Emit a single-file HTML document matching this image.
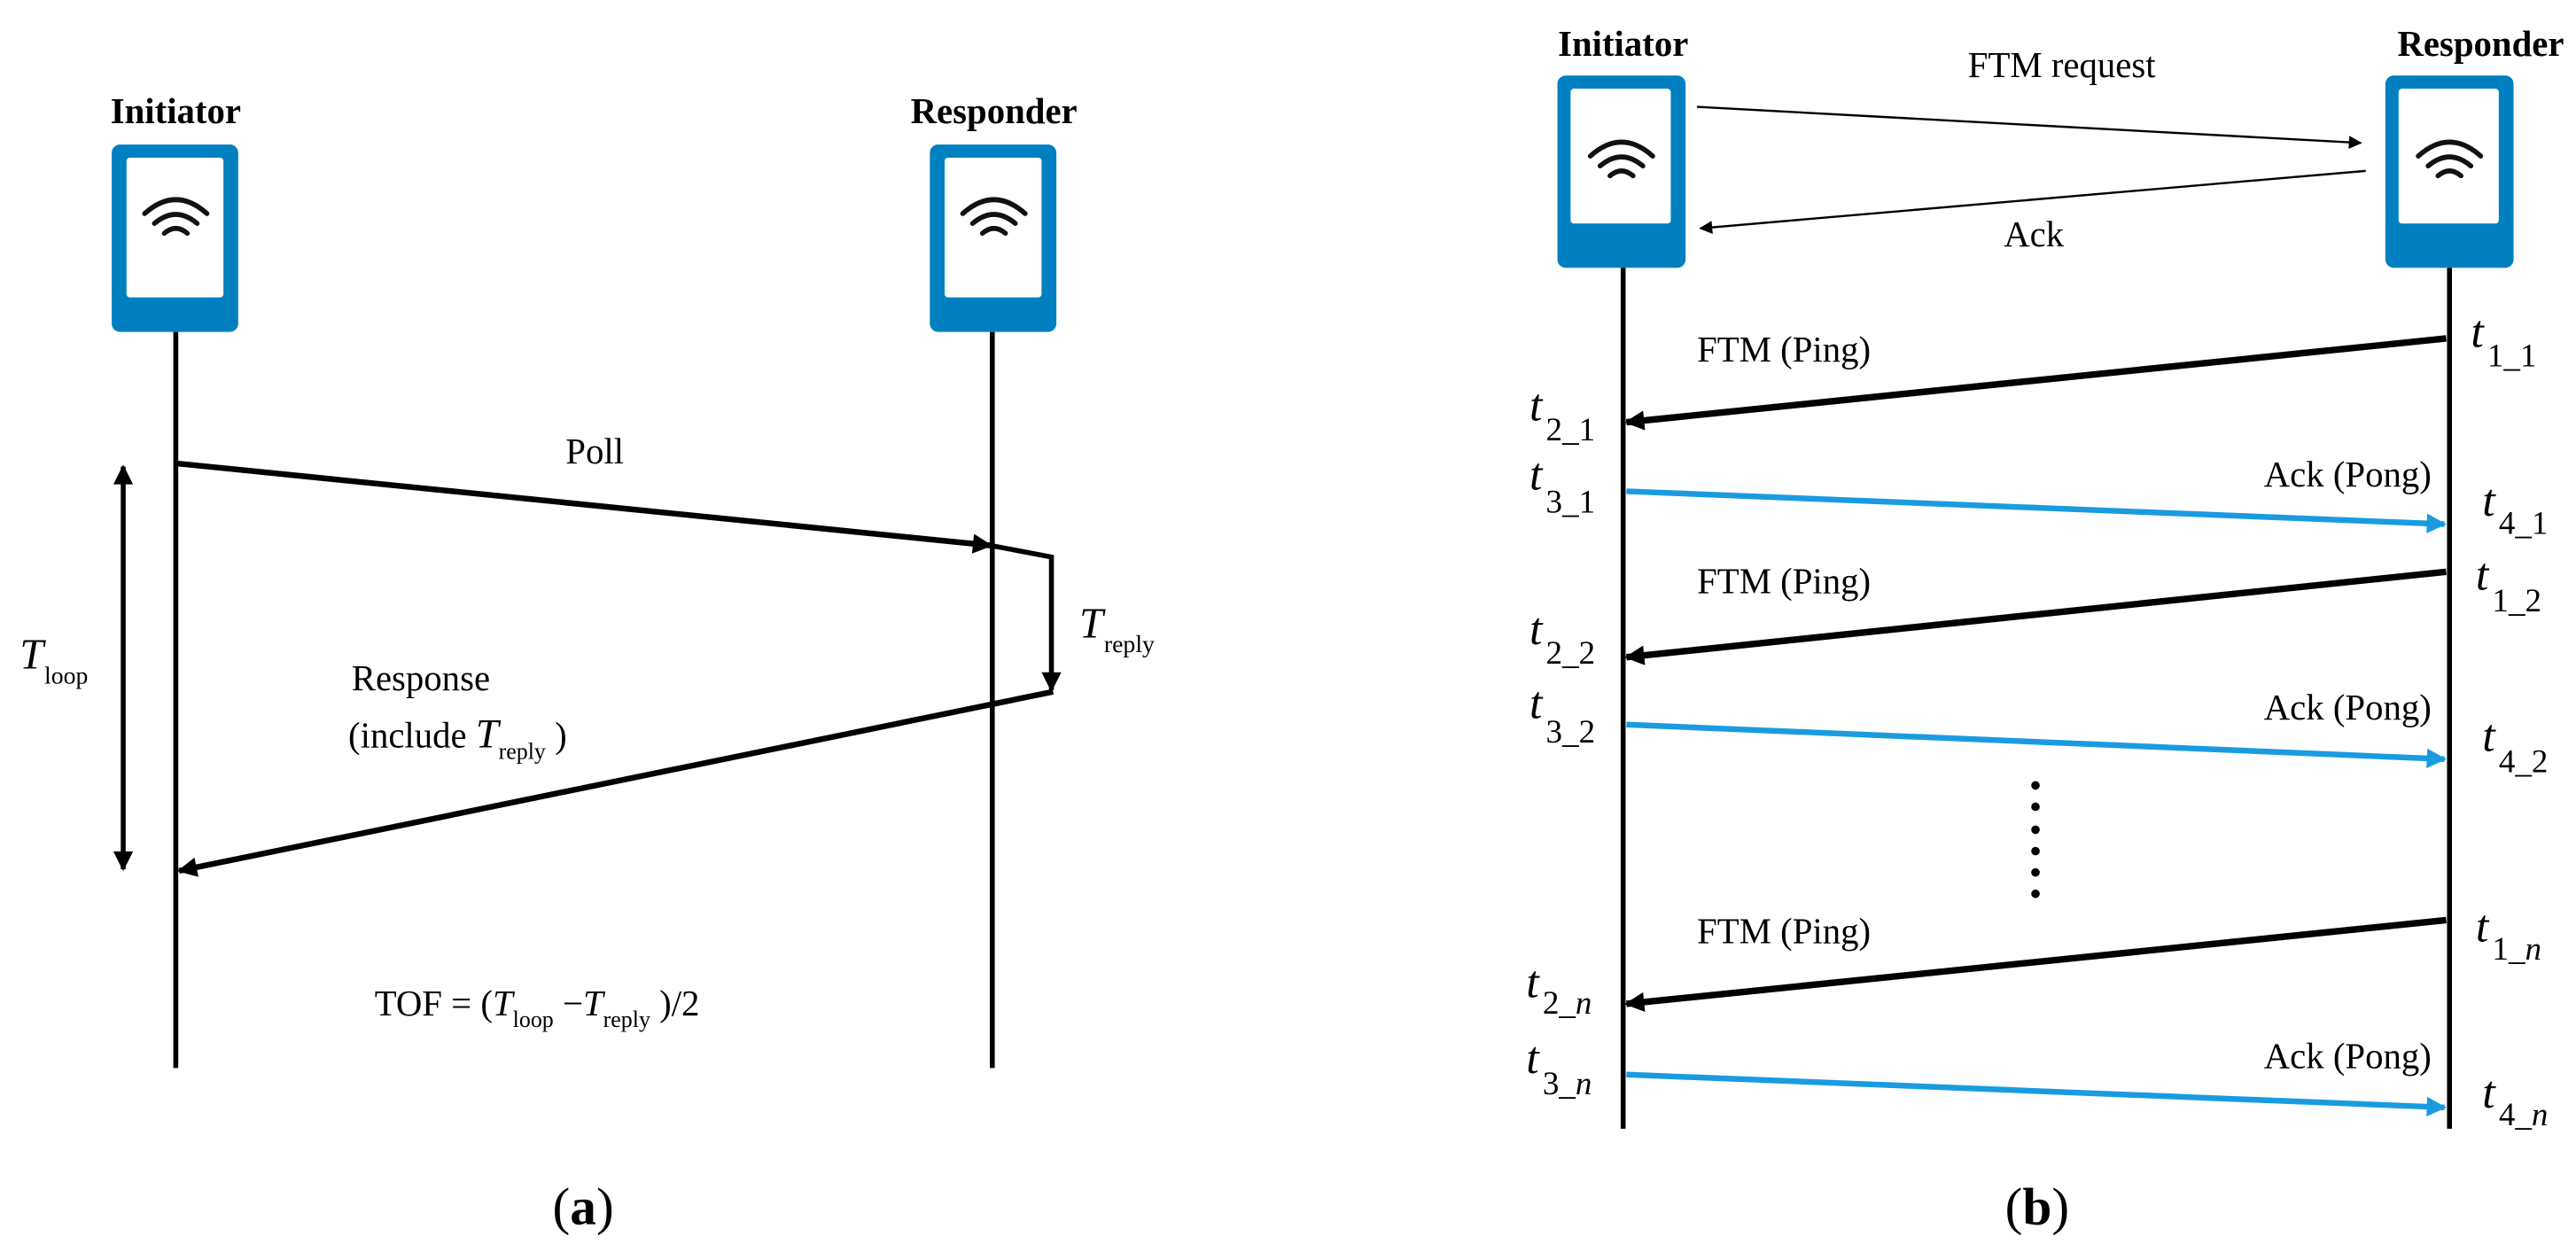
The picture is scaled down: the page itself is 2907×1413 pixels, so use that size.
<!DOCTYPE html>
<html><head><meta charset="utf-8"><style>
html,body{margin:0;padding:0;background:#fff;}
svg{display:block;}
text{font-family:"Liberation Serif",serif;fill:#000;}
.b{font-weight:bold;}
.i{font-style:italic;}
</style></head><body>
<svg width="2907" height="1413" viewBox="0 0 1568 762" preserveAspectRatio="none" xmlns="http://www.w3.org/2000/svg">
<defs>
<marker id="ahs" viewBox="0 0 10 10" refX="9" refY="5" markerWidth="9" markerHeight="8" orient="auto" markerUnits="userSpaceOnUse"><path d="M0,0 L10,5 L0,10 z" fill="#000"/></marker>
<marker id="ahk" viewBox="0 0 10 10" refX="9" refY="5" markerWidth="14" markerHeight="12" orient="auto-start-reverse" markerUnits="userSpaceOnUse"><path d="M0,0 L10,5 L0,10 z" fill="#000"/></marker>
<marker id="ahb" viewBox="0 0 10 10" refX="9" refY="5" markerWidth="14" markerHeight="12" orient="auto" markerUnits="userSpaceOnUse"><path d="M0,0 L10,5 L0,10 z" fill="#1a9be0"/></marker>
<g id="wifi" fill="none" stroke="#111" stroke-width="3" stroke-linecap="round">
<path d="M-19,3 Q0,-14 19,3"/><path d="M-13,9 Q0,-2 13,9"/><path d="M-7,15 Q0,9 7,15"/>
</g>
</defs>

<!-- ===== (a) ===== -->
<text x="107" y="75" font-size="22" class="b" text-anchor="middle">Initiator</text>
<text x="605" y="75" font-size="22" class="b" text-anchor="middle">Responder</text>
<rect x="68" y="88" width="77" height="114" rx="5" fill="#0080c0"/>
<rect x="77" y="96" width="59" height="85" rx="2" fill="#fff"/>
<use href="#wifi" x="107" y="127"/>
<rect x="566" y="88" width="77" height="114" rx="5" fill="#0080c0"/>
<rect x="575" y="96" width="59" height="85" rx="2" fill="#fff"/>
<use href="#wifi" x="605" y="127"/>
<line x1="107" y1="202" x2="107" y2="650" stroke="#000" stroke-width="3"/>
<line x1="604" y1="202" x2="604" y2="650" stroke="#000" stroke-width="3"/>
<line x1="75" y1="284" x2="75" y2="529" stroke="#000" stroke-width="3" marker-start="url(#ahk)" marker-end="url(#ahk)"/>
<line x1="107" y1="282" x2="603" y2="332" stroke="#000" stroke-width="3.5" marker-end="url(#ahk)"/>
<polyline points="603,332 640,339 640,420" fill="none" stroke="#000" stroke-width="3" marker-end="url(#ahk)"/>
<line x1="641" y1="421" x2="109" y2="530" stroke="#000" stroke-width="3.5" marker-end="url(#ahk)"/>
<text x="362" y="282" font-size="22" text-anchor="middle">Poll</text>
<text x="657" y="388" font-size="26" class="i">T</text><text x="672" y="397" font-size="15">reply</text>
<text x="12" y="407" font-size="26" class="i">T</text><text x="27" y="416" font-size="15">loop</text>
<text x="214" y="420" font-size="22">Response</text>
<text x="212" y="455" font-size="22">(include <tspan class="i" font-size="25">T</tspan><tspan font-size="14" dy="7">reply</tspan><tspan dy="-7"> )</tspan></text>
<text x="228" y="618" font-size="22">TOF = (<tspan class="i">T</tspan><tspan font-size="14" dy="7">loop</tspan><tspan dy="-7"> −</tspan><tspan class="i">T</tspan><tspan font-size="14" dy="7">reply</tspan><tspan dy="-7"> )/2</tspan></text>
<text x="355" y="745" font-size="32" text-anchor="middle">(<tspan class="b">a</tspan>)</text>

<!-- ===== (b) ===== -->
<text x="988" y="34" font-size="22" class="b" text-anchor="middle">Initiator</text>
<text x="1510" y="34" font-size="22" class="b" text-anchor="middle">Responder</text>
<rect x="948" y="46" width="78" height="117" rx="5" fill="#0080c0"/>
<rect x="956" y="54" width="61" height="82" rx="2" fill="#fff"/>
<use href="#wifi" x="987" y="92"/>
<rect x="1452" y="46" width="78" height="117" rx="5" fill="#0080c0"/>
<rect x="1460" y="54" width="61" height="82" rx="2" fill="#fff"/>
<use href="#wifi" x="1491" y="92"/>
<line x1="988" y1="163" x2="988" y2="687" stroke="#000" stroke-width="3"/>
<line x1="1491" y1="163" x2="1491" y2="687" stroke="#000" stroke-width="3"/>
<line x1="1033" y1="65" x2="1437" y2="87" stroke="#000" stroke-width="1.3" marker-end="url(#ahs)"/>
<line x1="1440" y1="104" x2="1035" y2="139" stroke="#000" stroke-width="1.3" marker-end="url(#ahs)"/>
<text x="1255" y="47" font-size="22" text-anchor="middle">FTM request</text>
<text x="1238" y="150" font-size="22" text-anchor="middle">Ack</text>

<g font-size="22">
<line x1="1489" y1="206" x2="990" y2="257" stroke="#000" stroke-width="4" marker-end="url(#ahk)"/>
<text x="1033" y="220">FTM (Ping)</text>
<line x1="990" y1="299" x2="1488" y2="319" stroke="#1a9be0" stroke-width="3.5" marker-end="url(#ahb)"/>
<text x="1480" y="296" text-anchor="end">Ack (Pong)</text>

<line x1="1489" y1="348" x2="990" y2="400" stroke="#000" stroke-width="4" marker-end="url(#ahk)"/>
<text x="1033" y="361">FTM (Ping)</text>
<line x1="990" y1="441" x2="1488" y2="462" stroke="#1a9be0" stroke-width="3.5" marker-end="url(#ahb)"/>
<text x="1480" y="438" text-anchor="end">Ack (Pong)</text>

<line x1="1489" y1="560" x2="990" y2="611" stroke="#000" stroke-width="4" marker-end="url(#ahk)"/>
<text x="1033" y="574">FTM (Ping)</text>
<line x1="990" y1="654" x2="1488" y2="674" stroke="#1a9be0" stroke-width="3.5" marker-end="url(#ahb)"/>
<text x="1480" y="650" text-anchor="end">Ack (Pong)</text>
</g>
<g fill="#000">
<circle cx="1239" cy="478" r="2.6"/><circle cx="1239" cy="491" r="2.6"/><circle cx="1239" cy="505" r="2.6"/>
<circle cx="1239" cy="518" r="2.6"/><circle cx="1239" cy="531" r="2.6"/><circle cx="1239" cy="544" r="2.6"/>
</g>
<g font-size="28">
<text x="1504" y="211" class="i">t</text><text x="1514" y="223" font-size="20">1_1</text>
<text x="931" y="256" class="i">t</text><text x="941" y="268" font-size="20">2_1</text>
<text x="931" y="298" class="i">t</text><text x="941" y="312" font-size="20">3_1</text>
<text x="1511" y="314" class="i">t</text><text x="1521" y="325" font-size="20">4_1</text>
<text x="1507" y="359" class="i">t</text><text x="1517" y="372" font-size="20">1_2</text>
<text x="931" y="392" class="i">t</text><text x="941" y="404" font-size="20">2_2</text>
<text x="931" y="437" class="i">t</text><text x="941" y="452" font-size="20">3_2</text>
<text x="1511" y="457" class="i">t</text><text x="1521" y="470" font-size="20">4_2</text>
<text x="1507" y="573" class="i">t</text><text x="1517" y="584" font-size="20">1_<tspan class="i">n</tspan></text>
<text x="929" y="607" class="i">t</text><text x="939" y="617" font-size="20">2_<tspan class="i">n</tspan></text>
<text x="929" y="653" class="i">t</text><text x="939" y="666" font-size="20">3_<tspan class="i">n</tspan></text>
<text x="1511" y="674" class="i">t</text><text x="1521" y="685" font-size="20">4_<tspan class="i">n</tspan></text>
</g>
<text x="1240" y="745" font-size="32" text-anchor="middle">(<tspan class="b">b</tspan>)</text>
</svg>
</body></html>
